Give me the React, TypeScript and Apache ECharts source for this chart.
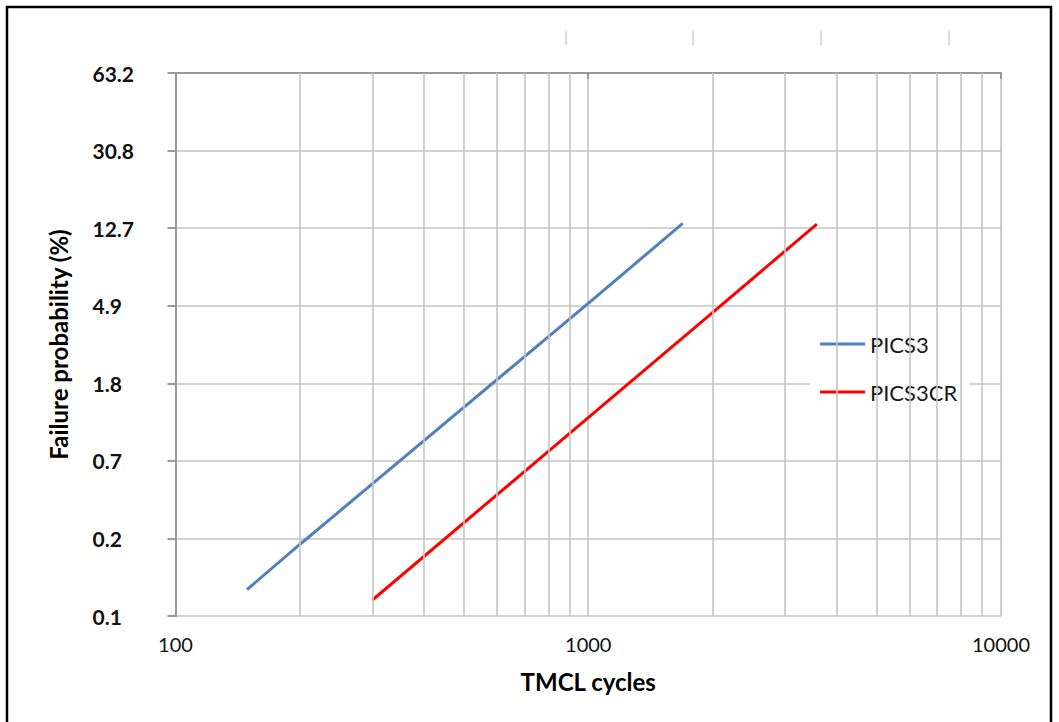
import React, { useEffect, useRef } from "react";
import * as echarts from "echarts";

// ---- Data (TMCL cycles vs failure probability %) ----
const pics3Cycles = [149, 200, 1000, 1694];
const pics3Prob = [0.128, 0.229, 5.0, 13.4];
const pics3crCycles = [300, 1000, 2000, 3580];
const pics3crProb = [0.112, 1.17, 4.45, 13.3];

// Weibull-scale tick labels (ln(-ln(1-F)) = -7 ... 0)
const yTickLabels = ["0.1", "0.2", "0.7", "1.8", "4.9", "12.7", "30.8", "63.2"];
const xTickLabels = ["100", "1000", "10000"];
// minor vertical gridlines of the log axis
const minorGridCycles = [200, 300, 400, 500, 600, 700, 800, 900, 2000, 3000, 4000, 5000, 6000, 7000, 8000, 9000];
// stray tick marks at the top of the picture
const strayTickX = [566, 693, 821, 949];

const FONT = "Lato, 'Open Sans', sans-serif";

const weibull = (pct: number) => Math.log(-Math.log(1 - pct / 100));

export default function App() {
  const ref = useRef<HTMLDivElement>(null);
  useEffect(() => {
    if (!ref.current) return;
    const chart = echarts.init(ref.current, undefined, { renderer: "svg" });
    const toPairs = (xs: number[], ps: number[]) => xs.map((x, i) => [x, weibull(ps[i])]);
    chart.setOption({
      animation: false,
      backgroundColor: "#ffffff",
      textStyle: { fontFamily: FONT },
      grid: { left: 175.5, right: 58, top: 73, bottom: 106, containLabel: false },
      legend: {
        data: ["PICS3", "PICS3CR"],
        orient: "vertical",
        left: 810,
        top: 320,
        padding: [13, 12, 15, 10],
        backgroundColor: "#ffffff",
        icon: "rect",
        itemWidth: 45,
        itemHeight: 3,
        itemGap: 26,
        textStyle: { fontFamily: FONT, fontSize: 22, color: "#1a1a1a", lineHeight: 22 },
      },
      xAxis: {
        type: "log",
        logBase: 10,
        min: 100,
        max: 10000,
        name: "TMCL cycles",
        nameLocation: "middle",
        nameGap: 53,
        nameTextStyle: { fontFamily: FONT, fontSize: 24, fontWeight: "bold", color: "#000" },
        axisLine: { show: true, lineStyle: { color: "#999999", width: 2 } },
        axisTick: { show: true, length: 6, lineStyle: { color: "#999999", width: 2 } },
        axisLabel: {
          margin: 18,
          fontFamily: FONT,
          fontSize: 20,
          color: "#111",
          formatter: (v: number) => xTickLabels[Math.round(Math.log10(v)) - 2] ?? "",
        },
        splitLine: { show: true, lineStyle: { color: "#c4c4c4", width: 1.6 } },
      },
      yAxis: {
        type: "value",
        min: -7,
        max: 0,
        interval: 1,
        name: "Failure probability (%)",
        nameLocation: "middle",
        nameRotate: 90,
        nameGap: 105,
        nameTextStyle: { fontFamily: FONT, fontSize: 24, fontWeight: "bold", color: "#000" },
        axisLine: { show: true, lineStyle: { color: "#999999", width: 2 } },
        axisTick: { show: true, length: 8, lineStyle: { color: "#999999", width: 2 } },
        axisLabel: {
          margin: 83,
          align: "left",
          fontFamily: FONT,
          fontSize: 21,
          fontWeight: "bold",
          color: "#111",
          formatter: (v: number) => yTickLabels[Math.round(v) + 7] ?? "",
        },
        splitLine: { show: true, lineStyle: { color: "#c4c4c4", width: 1.6 } },
      },
      series: [
        {
          name: "grid-minor",
          type: "line",
          data: [],
          z: 1,
          silent: true,
          markLine: {
            silent: true,
            symbol: "none",
            label: { show: false },
            lineStyle: { color: "#c4c4c4", width: 1.6, type: "solid" },
            data: minorGridCycles.map((c) => ({ xAxis: c })),
          },
        },
        {
          name: "PICS3",
          type: "line",
          data: toPairs(pics3Cycles, pics3Prob),
          showSymbol: false,
          symbol: "none",
          itemStyle: { color: "#4f81bd" },
          lineStyle: { color: "#4f81bd", width: 3 },
          z: 3,
        },
        {
          name: "PICS3CR",
          type: "line",
          data: toPairs(pics3crCycles, pics3crProb),
          showSymbol: false,
          symbol: "none",
          itemStyle: { color: "#ff0000" },
          lineStyle: { color: "#ff0000", width: 3 },
          z: 3,
        },
      ],
      graphic: [
        {
          type: "rect",
          shape: { x: 7, y: 7, width: 1044, height: 730 },
          style: { fill: "none", stroke: "#000000", lineWidth: 2.5 },
          silent: true,
        },
        ...strayTickX.map((x) => ({
          type: "line",
          shape: { x1: x, y1: 31, x2: x, y2: 45 },
          style: { stroke: "#c9d2e2", lineWidth: 1.5 },
          silent: true,
        })),
      ],
    });
    return () => chart.dispose();
  }, []);
  return (
    <div
      ref={ref}
      style={{ position: "fixed", left: 0, top: 0, width: 1059, height: 722, background: "#fff" }}
    />
  );
}
